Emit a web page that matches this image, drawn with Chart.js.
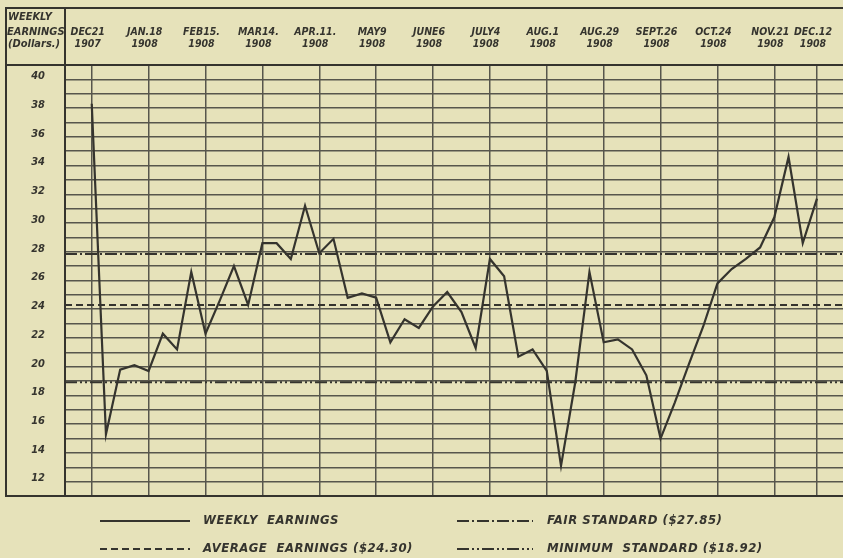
<!DOCTYPE html>
<html>
<head>
<meta charset="utf-8">
<script src="https://cdn.jsdelivr.net/npm/chart.js@4.4.1/dist/chart.umd.min.js"></script>
<style>
  html, body { margin: 0; padding: 0; background: #e6e2ba; }
  canvas { display: block; }
</style>
</head>
<body>
<canvas id="chart" width="843" height="558"></canvas>
<script>
// weekly earnings, one value per week from Dec 21 1907 to Dec 12 1908
const earnings = [
    38.3, 15.3, 19.8, 20.1, 19.7, 22.3, 21.2, 26.6, 22.3, 24.6,
    27.0, 24.3, 28.6, 28.6, 27.5, 31.2, 27.9, 28.9, 24.8, 25.1,
    24.8, 21.7, 23.3, 22.7, 24.2, 25.2, 23.8, 21.3, 27.5, 26.3,
    20.7, 21.2, 19.7, 13.1, 18.9, 26.6, 21.7, 21.9, 21.2, 19.4,
    15.0, 17.5, 20.2, 22.8, 25.8, 26.8, 27.5, 28.3, 30.4, 34.6,
    28.6, 31.7
];
const tickWeeks = [0, 4, 8, 12, 16, 20, 24, 28, 32, 36, 40, 44, 48, 51];
const tickDates = ["DEC21", "JAN.18", "FEB15.", "MAR14.", "APR.11.", "MAY9", "JUNE6",
    "JULY4", "AUG.1", "AUG.29", "SEPT.26", "OCT.24", "NOV.21", "DEC.12"];
const tickYears = ["1907", "1908", "1908", "1908", "1908", "1908", "1908",
    "1908", "1908", "1908", "1908", "1908", "1908", "1908"];
const averageEarnings = 24.30;
const fairStandard = 27.85;
const minimumStandard = 18.92;
const legendLabels = ["WEEKLY  EARNINGS", "AVERAGE  EARNINGS ($24.30)",
    "FAIR STANDARD ($27.85)", "MINIMUM  STANDARD ($18.92)"];

const paper = "#e6e2ba";
const ink = "#35342e";
const gridInk = "#57564c";
const family = "'Liberation Sans Narrow', 'DejaVu Sans Condensed', 'Liberation Sans', sans-serif";
const xMin = -1.88, xMax = 52.83;

const dashes = {
    average: [7, 4],
    fair: [12, 3, 2, 3],
    minimum: [12, 3, 2, 3, 2, 3],
};

function flat(value) {
    return [{ x: xMin, y: value }, { x: xMax, y: value }];
}

const framePlugin = {
    id: "frame",
    beforeDraw(chart) {
        const ctx = chart.ctx;
        ctx.save();
        ctx.fillStyle = paper;
        ctx.fillRect(0, 0, chart.width, chart.height);
        ctx.restore();
    },
    afterDraw(chart) {
        const ctx = chart.ctx;
        const a = chart.chartArea;
        ctx.save();
        ctx.strokeStyle = ink;
        ctx.lineWidth = 2;
        ctx.beginPath();
        ctx.moveTo(5, 8); ctx.lineTo(chart.width, 8);
        ctx.moveTo(6, 8); ctx.lineTo(6, a.bottom);
        ctx.moveTo(5, a.top); ctx.lineTo(chart.width, a.top);
        ctx.moveTo(a.left, 8); ctx.lineTo(a.left, a.bottom);
        ctx.moveTo(5, a.bottom); ctx.lineTo(chart.width, a.bottom);
        ctx.stroke();

        // header of the value column
        ctx.fillStyle = ink;
        ctx.font = "bold italic 11px " + family;
        ctx.textBaseline = "middle";
        ctx.textAlign = "left";
        ctx.fillText("WEEKLY", 8, 17);
        ctx.fillText("EARNINGS", 7, 32.5);
        ctx.fillText("(Dollars.)", 8, 44);

        // legend
        const rows = [521, 549];
        const samples = [[100, 190], [457, 533]];
        const textX = [203, 547];
        const items = [
            { label: legendLabels[0], dash: [], col: 0, row: 0 },
            { label: legendLabels[1], dash: dashes.average, col: 0, row: 1 },
            { label: legendLabels[2], dash: dashes.fair, col: 1, row: 0 },
            { label: legendLabels[3], dash: dashes.minimum, col: 1, row: 1 },
        ];
        ctx.font = "bold italic 13px " + family;
        ctx.letterSpacing = "0.5px";
        items.forEach(function (it) {
            const y = rows[it.row];
            ctx.setLineDash(it.dash);
            ctx.lineWidth = 2;
            ctx.beginPath();
            ctx.moveTo(samples[it.col][0], y);
            ctx.lineTo(samples[it.col][1], y);
            ctx.stroke();
            ctx.setLineDash([]);
            ctx.fillText(it.label, textX[it.col], y);
        });
        ctx.restore();
    },
};

const ctx = document.getElementById("chart");
new Chart(ctx, {
    type: "line",
    data: {
        datasets: [
            {
                label: "Weekly earnings",
                data: earnings.map((v, i) => ({ x: i, y: v })),
                borderColor: ink,
                borderWidth: 2.2,
                pointRadius: 0,
                tension: 0,
            },
            {
                label: "Fair standard",
                data: flat(fairStandard),
                borderColor: ink,
                borderWidth: 2,
                borderDash: dashes.fair,
                pointRadius: 0,
            },
            {
                label: "Average earnings",
                data: flat(averageEarnings),
                borderColor: ink,
                borderWidth: 2,
                borderDash: dashes.average,
                pointRadius: 0,
            },
            {
                label: "Minimum standard",
                data: flat(minimumStandard),
                borderColor: ink,
                borderWidth: 2,
                borderDash: dashes.minimum,
                pointRadius: 0,
            },
        ],
    },
    options: {
        responsive: false,
        animation: false,
        devicePixelRatio: 1,
        layout: { padding: { left: 0, right: 0, top: 0, bottom: 62 } },
        scales: {
            x: {
                type: "linear",
                position: "top",
                min: xMin,
                max: xMax,
                afterBuildTicks(scale) {
                    scale.ticks = tickWeeks.map((w) => ({ value: w }));
                },
                afterFit(scale) {
                    scale.height = 65;
                    scale.paddingLeft = 0;
                    scale.paddingRight = 0;
                },
                ticks: {
                    autoSkip: false,
                    maxRotation: 0,
                    padding: 15,
                    labelOffset: -4,
                    color: ink,
                    font: { family: family, size: 10.5, weight: "bold", style: "italic", lineHeight: 1.15 },
                    callback: function (value, index) {
                        return [tickDates[index], tickYears[index]];
                    },
                },
                grid: { color: gridInk, lineWidth: 1.5, drawTicks: false },
                border: { display: false },
            },
            y: {
                min: 11,
                max: 41,
                afterBuildTicks(scale) {
                    const t = [];
                    for (let v = 11; v <= 41; v++) t.push({ value: v });
                    scale.ticks = t;
                },
                afterFit(scale) {
                    scale.width = 65;
                    scale.paddingTop = 0;
                    scale.paddingBottom = 0;
                },
                ticks: {
                    autoSkip: false,
                    padding: 20,
                    labelOffset: -3,
                    color: ink,
                    font: { family: family, size: 11, weight: "bold", style: "italic" },
                    callback: function (value) {
                        return value % 2 === 0 && value >= 12 && value <= 40 ? String(value) : "";
                    },
                },
                grid: { color: gridInk, lineWidth: 1.5, drawTicks: false },
                border: { display: false },
            },
        },
        plugins: {
            legend: { display: false },
            tooltip: { enabled: false },
        },
    },
    plugins: [framePlugin],
});
</script>
</body>
</html>
